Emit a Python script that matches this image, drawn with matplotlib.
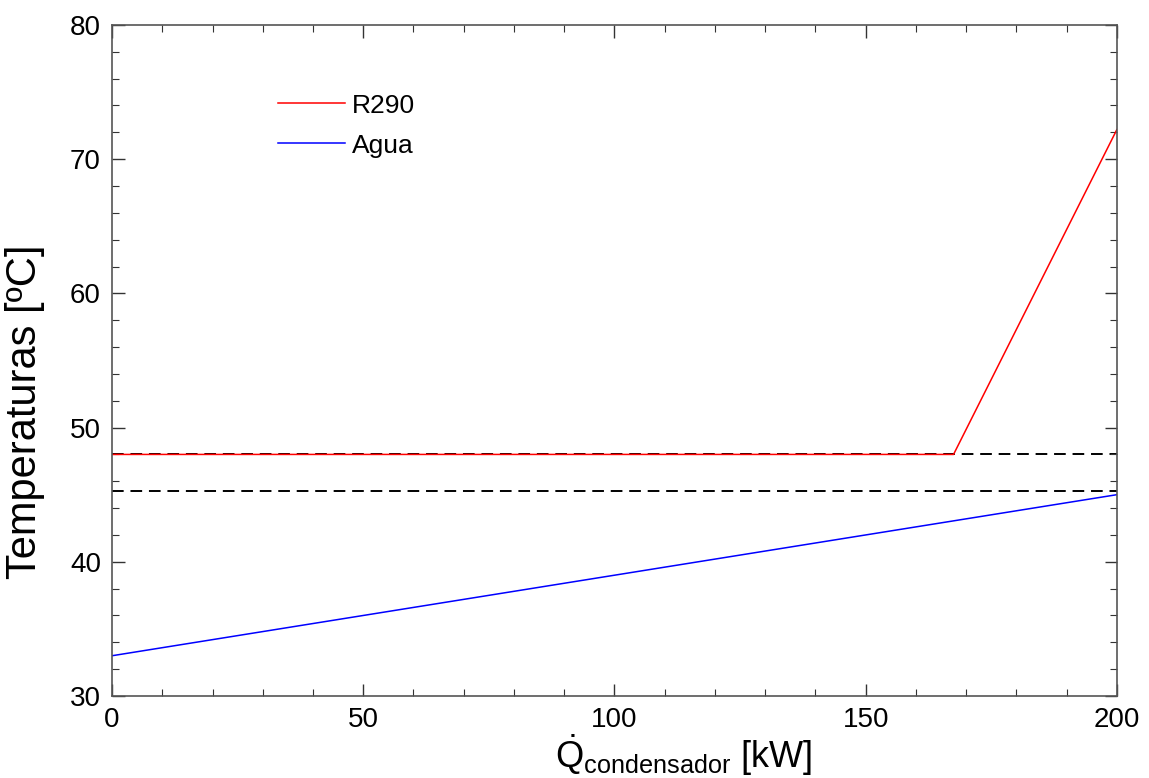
import matplotlib.pyplot as plt
from matplotlib.ticker import MultipleLocator

plt.rcParams["font.family"] = ["Liberation Sans", "DejaVu Sans"]
plt.rcParams["mathtext.fontset"] = "custom"
plt.rcParams["mathtext.rm"] = "Liberation Sans"
plt.rcParams["mathtext.it"] = "Liberation Sans:italic"
plt.rcParams["mathtext.bf"] = "Liberation Sans:bold"

# condenser heat duty [kW] vs temperature [C]
q_r290 = [0.0, 167.5, 200.0]
t_r290 = [48.0, 48.0, 72.2]
q_agua = [0.0, 200.0]
t_agua = [33.0, 45.0]
t_cond = 48.0
t_agua_max = 45.3

fig = plt.figure(figsize=(11.49, 7.78), dpi=100)
ax = fig.add_axes([0.0975, 0.1054, 0.8745, 0.8625])

ax.axhline(t_cond, color="black", lw=1.4, ls=(0, (6, 3.5)), zorder=1)
ax.axhline(t_agua_max, color="black", lw=1.4, ls=(0, (6, 3.5)), zorder=1)
ax.plot(q_r290, t_r290, color="#ff0000", lw=1.1, label="R290", zorder=2)
ax.plot(q_agua, t_agua, color="#0000ff", lw=1.1, label="Agua", zorder=2)

ax.set_xlim(0, 200)
ax.set_ylim(30, 80)
ax.xaxis.set_major_locator(MultipleLocator(50))
ax.xaxis.set_minor_locator(MultipleLocator(10))
ax.yaxis.set_major_locator(MultipleLocator(10))
ax.yaxis.set_minor_locator(MultipleLocator(2))
ax.tick_params(which="both", direction="in", top=True, right=True, color="#333333")
ax.tick_params(which="major", length=9, width=1.0, labelsize=20, pad=8)
ax.tick_params(which="minor", length=5, width=0.8)
for s in ax.spines.values():
    s.set_color("#555555")
    s.set_linewidth(1.2)

ax.set_ylabel("Temperaturas [ºC]", fontsize=30)
ax.yaxis.set_label_coords(-0.067, 0.423)
ax.set_xlabel(r"$\dot{\mathrm{Q}}_{\mathrm{condensador}}$ [kW]", fontsize=26)
ax.xaxis.set_label_coords(0.569, -0.055)

ax.legend(loc="center left", bbox_to_anchor=(0.165, 0.85), frameon=False,
          fontsize=19, handlelength=2.55, handletextpad=0.25, labelspacing=0.6,
          borderpad=0, borderaxespad=0)

fig.savefig("out.png", dpi=100)
